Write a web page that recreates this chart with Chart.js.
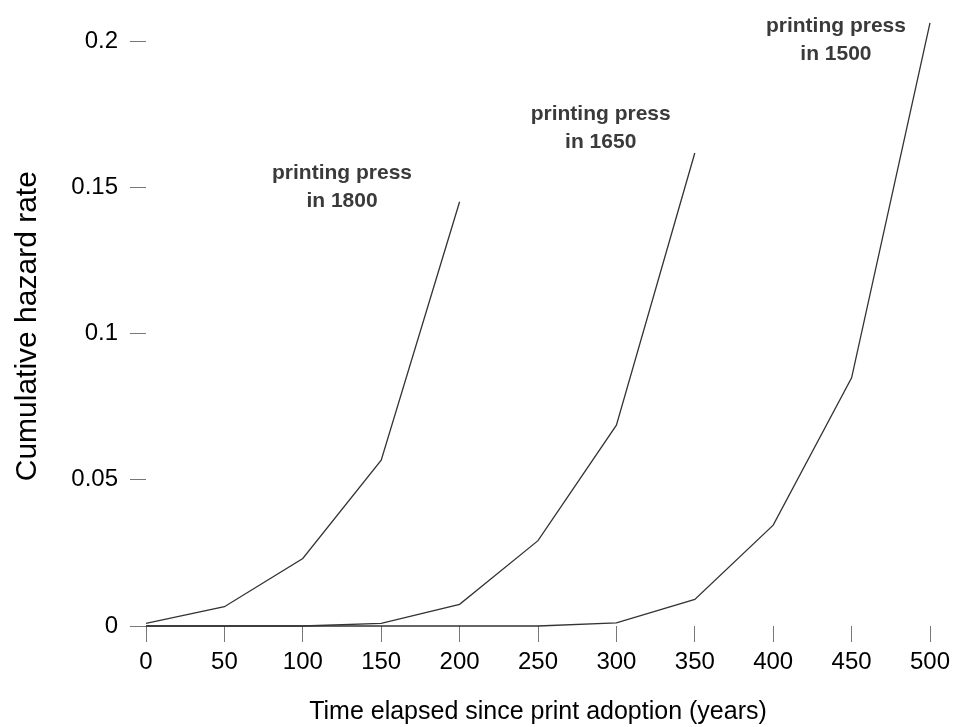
<!DOCTYPE html>
<html>
<head>
<meta charset="utf-8">
<script src="https://cdn.jsdelivr.net/npm/chart.js@4.4.1/dist/chart.umd.min.js"></script>
<style>
  body { margin: 0; background: #fff; }
  #wrap { width: 955px; height: 727px; }
</style>
</head>
<body>
<div id="wrap"><canvas id="myChart" width="955" height="727"></canvas></div>
<script>
// years since adoption, shared by all three series
const years = [0, 50, 100, 150, 200, 250, 300, 350, 400, 450, 500];

// cumulative hazard
const hazard1800 = [0.0009, 0.0066, 0.0231, 0.0567, 0.1451];
const hazard1650 = [0, 0, 0, 0.0009, 0.0074, 0.0292, 0.0687, 0.1618];
const hazard1500 = [0, 0, 0, 0, 0, 0, 0.0011, 0.0091, 0.0345, 0.0849, 0.2063];

const xTicks = [0, 50, 100, 150, 200, 250, 300, 350, 400, 450, 500];
const yTicks = [0, 0.05, 0.1, 0.15, 0.2];
const yTickLabels = ["0", "0.05", "0.1", "0.15", "0.2"];

// curve labels and where they sit (data units)
const pressLabels = [["printing press", "in 1800"], ["printing press", "in 1650"], ["printing press", "in 1500"]];
const labelX = [125, 290, 440];
const labelY = [0.155, 0.175, 0.2051];

const toPoints = (arr) => arr.map((v, i) => ({ x: years[i], y: v }));

const lineStyle = {
  borderColor: "#333",
  borderWidth: 1.3,
  pointRadius: 0,
  fill: false,
  tension: 0,
  clip: false,
};

const curveLabels = {
  id: "curveLabels",
  afterDatasetsDraw(chart) {
    const { ctx, scales } = chart;
    ctx.save();
    ctx.font = "bold 21px 'Liberation Sans', Arial, sans-serif";
    ctx.fillStyle = "#3a3a3a";
    ctx.textAlign = "center";
    ctx.textBaseline = "middle";
    pressLabels.forEach((lines, i) => {
      const px = scales.x.getPixelForValue(labelX[i]);
      const py = scales.y.getPixelForValue(labelY[i]);
      lines.forEach((t, j) => ctx.fillText(t, px, py + j * 28));
    });
    ctx.restore();
  },
};

const ctx = document.getElementById("myChart").getContext("2d");
const myChart = new Chart(ctx, {
  type: "line",
  data: {
    datasets: [
      { label: "1800", data: toPoints(hazard1800), ...lineStyle },
      { label: "1650", data: toPoints(hazard1650), ...lineStyle },
      { label: "1500", data: toPoints(hazard1500), ...lineStyle },
    ],
  },
  options: {
    responsive: false,
    animation: false,
    layout: { padding: 0 },
    plugins: { legend: { display: false }, tooltip: { enabled: false } },
    scales: {
      x: {
        type: "linear",
        min: 0,
        max: 500,
        offset: false,
        afterBuildTicks: (s) => { s.ticks = xTicks.map((v) => ({ value: v })); },
        afterFit: (s) => { s.height = 101; s.paddingRight = 25; s.paddingLeft = 0; },
        border: { display: false },
        grid: { drawOnChartArea: false, drawTicks: true, tickLength: 16, tickColor: "#777", tickWidth: 1 },
        ticks: {
          color: "#000",
          padding: 6,
          maxRotation: 0,
          autoSkip: false,
          font: { family: "'Liberation Sans', Arial, sans-serif", size: 24, lineHeight: 1.2 },
        },
        title: {
          display: true,
          text: "Time elapsed since print adoption (years)",
          color: "#000",
          font: { family: "'Liberation Sans', Arial, sans-serif", size: 25, lineHeight: 1 },
          padding: { top: 0, bottom: 2 },
        },
      },
      y: {
        min: 0,
        max: 0.2051,
        afterBuildTicks: (s) => { s.ticks = yTicks.map((v) => ({ value: v })); },
        afterFit: (s) => { s.width = 146; },
        border: { display: false },
        grid: { drawOnChartArea: false, drawTicks: true, tickLength: 16, tickColor: "#777", tickWidth: 1 },
        ticks: {
          color: "#000",
          padding: 12,
          autoSkip: false,
          callback: (v, i) => yTickLabels[i],
          font: { family: "'Liberation Sans', Arial, sans-serif", size: 24 },
        },
        title: {
          display: true,
          text: "Cumulative hazard rate",
          color: "#000",
          font: { family: "'Liberation Sans', Arial, sans-serif", size: 30, lineHeight: 1 },
          padding: { top: 13, bottom: 0 },
        },
      },
    },
  },
  plugins: [curveLabels],
});
</script>
</body>
</html>
